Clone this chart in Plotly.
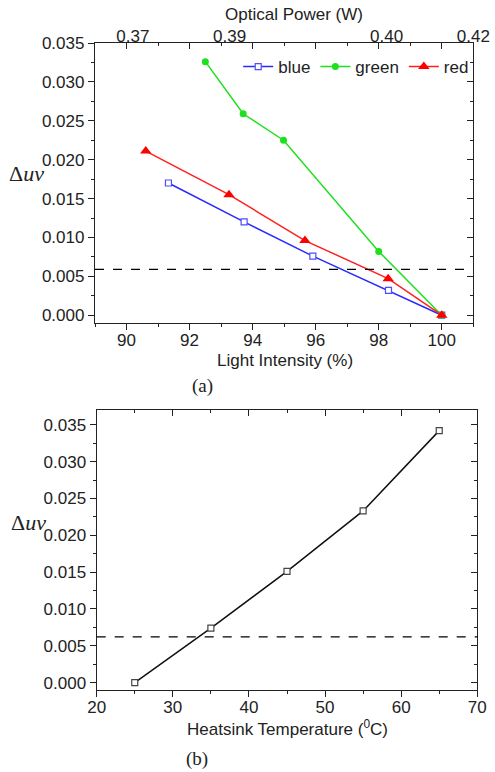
import plotly.graph_objects as go

# ---- data: panel (a) ----
blue_x = [91.33, 93.73, 95.91, 98.31, 100.0]
blue_y = [0.0170, 0.0120, 0.0076, 0.0032, 0.0000]
green_x = [92.50, 93.70, 94.98, 98.00, 100.0]
green_y = [0.0326, 0.0259, 0.0225, 0.0082, 0.0000]
red_x = [90.61, 93.25, 95.66, 98.30, 100.0]
red_y = [0.0211, 0.0155, 0.0096, 0.0047, 0.0000]
threshold_a = 0.0059
top_tick_pos = [90.2, 93.27, 98.25, 101.0]
top_tick_text = ["0.37", "0.39", "0.40", "0.42"]

# ---- data: panel (b) ----
temp_x = [25, 35, 45, 55, 65]
temp_y = [0.0000, 0.0074, 0.0151, 0.0233, 0.0342]
threshold_b = 0.0062

FONT = "Liberation Sans, Arial, sans-serif"
SERIF = "Liberation Serif, Times New Roman, serif"
TXT = "#222222"
LW = 1.3

fig = go.Figure()

fig.add_trace(go.Scatter(x=blue_x, y=blue_y, name="blue", mode="lines+markers",
                         line=dict(color="#2a2aff", width=1.5),
                         marker=dict(symbol="square", size=6, color="white",
                                     line=dict(color="#4d4dff", width=1.2)),
                         xaxis="x", yaxis="y"))
fig.add_trace(go.Scatter(x=green_x, y=green_y, name="green", mode="lines+markers",
                         line=dict(color="#1ee01e", width=1.5),
                         marker=dict(symbol="circle", size=7, color="#1ee01e"),
                         xaxis="x", yaxis="y"))
fig.add_trace(go.Scatter(x=red_x, y=red_y, name="red", mode="lines+markers",
                         line=dict(color="#ff2020", width=1.5),
                         marker=dict(symbol="triangle-up", size=10, color="#ff0000"),
                         xaxis="x", yaxis="y"))

fig.add_trace(go.Scatter(x=temp_x, y=temp_y, name="temp", mode="lines+markers",
                         showlegend=False,
                         line=dict(color="#111111", width=1.5),
                         marker=dict(symbol="square", size=6, color="white",
                                     line=dict(color="#444444", width=1.2)),
                         xaxis="x4", yaxis="y3"))

# empty helper traces to anchor the frame axes
for xa, ya in [("x2", "y"), ("x3", "y"), ("x", "y2"), ("x5", "y3"), ("x4", "y4")]:
    fig.add_trace(go.Scatter(x=[], y=[], xaxis=xa, yaxis=ya, showlegend=False,
                             hoverinfo="skip"))

# threshold dashed lines
fig.add_shape(type="line", xref="x domain", yref="y", x0=0, x1=1,
              y0=threshold_a, y1=threshold_a,
              line=dict(color="black", width=1.2, dash="dash"))
fig.add_shape(type="line", xref="x4 domain", yref="y3", x0=0, x1=1,
              y0=threshold_b, y1=threshold_b,
              line=dict(color="black", width=1.2, dash="dash"))

tickfont = dict(family=FONT, size=17, color=TXT)
base = dict(showgrid=False, zeroline=False, showline=True, linecolor="#222",
            linewidth=LW, tickcolor="#222", tickwidth=1.2, tickfont=tickfont,
            automargin=False)

dom_ax = [95 / 495, 473.3 / 495]
dom_ay = [(772 - 323) / 772, (772 - 43) / 772]
dom_bx = [96.7 / 495, 477.3 / 495]
dom_by = [(772 - 690) / 772, (772 - 410) / 772]

fig.update_layout(
    width=495, height=772, autosize=False,
    margin=dict(l=0, r=0, t=0, b=0, pad=0, autoexpand=False),
    paper_bgcolor="white", plot_bgcolor="white",
    font=dict(family=FONT, color=TXT),
    xaxis=dict(**base, domain=dom_ax, anchor="y", range=[89, 101],
               tick0=90, dtick=2, ticks="outside", ticklen=6, ticklabelstandoff=-5,
               minor=dict(dtick=1, tick0=90, ticks="outside", ticklen=3)),
    xaxis2=dict(**base, overlaying="x", side="top", anchor="y", range=[89, 101],
                tick0=90, dtick=2, ticks="inside", ticklen=6, showticklabels=False,
                minor=dict(dtick=1, tick0=90, ticks="inside", ticklen=3)),
    xaxis3=dict(showgrid=False, zeroline=False, showline=False, overlaying="x",
                side="top", anchor="y", range=[89, 101], tickmode="array",
                tickvals=top_tick_pos, ticktext=top_tick_text, ticks="",
                ticklabelstandoff=-3, tickfont=tickfont, automargin=False),
    yaxis=dict(**base, domain=dom_ay, anchor="x", range=[-0.001, 0.035],
               tick0=0, dtick=0.005, tickformat=".3f", ticks="outside", ticklen=6,
               minor=dict(dtick=0.0025, tick0=0, ticks="outside", ticklen=3)),
    yaxis2=dict(**base, overlaying="y", side="right", anchor="x",
                range=[-0.001, 0.035], tick0=0, dtick=0.005, ticks="inside",
                ticklen=6, showticklabels=False,
                minor=dict(dtick=0.0025, tick0=0, ticks="inside", ticklen=3)),
    xaxis4=dict(**base, domain=dom_bx, anchor="y3", range=[20, 70],
                tick0=20, dtick=10, ticks="outside", ticklen=6, ticklabelstandoff=-5,
                minor=dict(dtick=5, tick0=20, ticks="outside", ticklen=3)),
    xaxis5=dict(**base, overlaying="x4", side="top", anchor="y3", range=[20, 70],
                tick0=20, dtick=10, ticks="inside", ticklen=6, showticklabels=False,
                minor=dict(dtick=5, tick0=20, ticks="inside", ticklen=3)),
    yaxis3=dict(**base, domain=dom_by, anchor="x4", range=[-0.001, 0.037],
                tick0=0, dtick=0.005, tickformat=".3f", ticks="outside", ticklen=6,
                minor=dict(dtick=0.0025, tick0=0, ticks="outside", ticklen=3)),
    yaxis4=dict(**base, overlaying="y3", side="right", anchor="x4",
                range=[-0.001, 0.037], tick0=0, dtick=0.005, ticks="inside",
                ticklen=6, showticklabels=False,
                minor=dict(dtick=0.0025, tick0=0, ticks="inside", ticklen=3)),
    legend=dict(orientation="h", x=0.958, xanchor="right", y=(772 - 67) / 772,
                yanchor="middle", bgcolor="rgba(0,0,0,0)",
                font=dict(family=FONT, size=17, color=TXT),
                itemwidth=30, tracegroupgap=0),
    showlegend=True,
)

def ann(text, x, y, size=17, family=FONT):
    fig.add_annotation(text=text, x=x / 495, y=(772 - y) / 772, xref="paper",
                       yref="paper", showarrow=False, xanchor="center",
                       yanchor="middle", font=dict(family=family, size=size, color=TXT))

ann("Optical Power (W)", 293.5, 15)
ann("Light Intensity (%)", 284.5, 360)
ann("Heatsink Temperature (<sup>0</sup>C)", 287.5, 728)
ann("Δ<i>uv</i>", 26, 173, size=22, family=SERIF)
ann("Δ<i>uv</i>", 28, 522, size=22, family=SERIF)
ann("(a)", 202, 386, size=19, family=SERIF)
ann("(b)", 197, 759, size=19, family=SERIF)

fig.write_html("out.html", config={"responsive": False})
